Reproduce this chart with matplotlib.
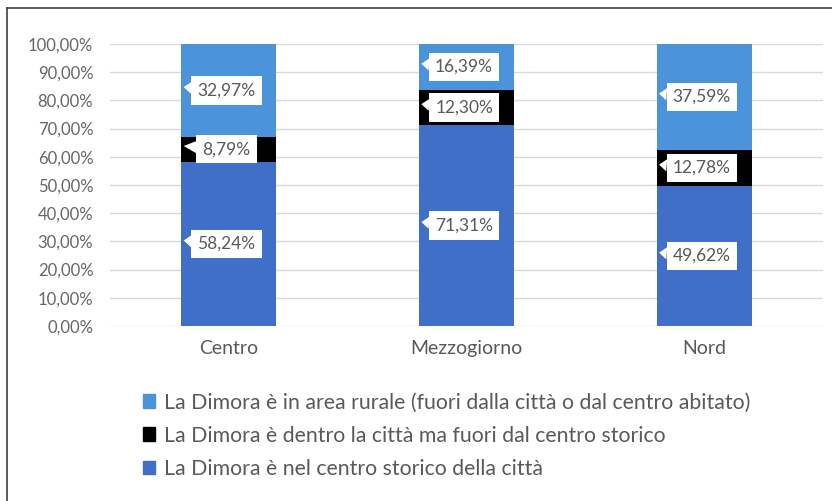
import matplotlib
matplotlib.use("Agg")
import matplotlib.pyplot as plt
from matplotlib.patches import Patch
from matplotlib.lines import Line2D
import numpy as np

categories = ["Centro", "Mezzogiorno", "Nord"]
centro_storico = [58.24, 71.31, 49.62]
dentro_citta = [8.79, 12.30, 12.78]
area_rurale = [32.97, 16.39, 37.59]
series_labels = [
    "La Dimora è nel centro storico della città",
    "La Dimora è dentro la città ma fuori dal centro storico",
    "La Dimora è in area rurale (fuori dalla città o dal centro abitato)",
]
yticks = [0, 10, 20, 30, 40, 50, 60, 70, 80, 90, 100]
ytick_labels = ["0,00%", "10,00%", "20,00%", "30,00%", "40,00%", "50,00%",
                "60,00%", "70,00%", "80,00%", "90,00%", "100,00%"]

colors = ["#3f6fc6", "#000000", "#4b93da"]
text_color = "#595959"
FONT = ["Lato", "DejaVu Sans"]
plt.rcParams['font.family'] = FONT

fig = plt.figure(figsize=(8.32, 5.01), dpi=100)
ax = fig.add_axes([110/832, 175/501, 713/832, 282/501])

x = np.arange(len(categories))
width = 0.40
series = [centro_storico, dentro_citta, area_rurale]
bottom = np.zeros(len(categories))
for vals, col, lab in zip(series, colors, series_labels):
    ax.bar(x, vals, width, bottom=bottom, color=col, label=lab, zorder=2)
    for xi, b, v in zip(x, bottom, vals):
        ymid = b + v / 2
        txt = f"{v:.2f}%".replace(".", ",")
        ax.annotate(txt, xy=(xi - width / 2 + 0.01, ymid + 1.2),
                    xytext=(xi - 0.01, ymid), textcoords="data",
                    ha="center", va="center", fontsize=12.5, color=text_color,
                    bbox=dict(boxstyle="square,pad=0.35", fc="white", ec="none"),
                    arrowprops=dict(arrowstyle="wedge,tail_width=0.7,shrink_factor=0.5",
                                    fc="white", ec="none", shrinkA=0, shrinkB=0),
                    zorder=4)
    bottom = bottom + np.array(vals)

ax.set_xlim(-0.5, 2.5)
ax.set_ylim(0, 100)
ax.set_yticks(yticks)
ax.set_yticklabels(ytick_labels)
ax.set_xticks(x)
ax.set_xticklabels(categories)
ax.tick_params(axis="y", length=0, pad=12, labelsize=12, labelcolor="#666666")
ax.tick_params(axis="x", length=0, pad=10, labelsize=14, labelcolor=text_color)
ax.grid(axis="y", color="#d9d9d9", linewidth=1, zorder=0)
ax.set_axisbelow(True)
for s in ax.spines.values():
    s.set_visible(False)

handles = [Patch(color=c) for c in colors]
fig.legend(handles[::-1], series_labels[::-1], loc="upper left",
           bbox_to_anchor=(134/832, 1 - 384/501), frameon=False,
           handlelength=0.6, handleheight=0.6, handletextpad=0.4,
           labelspacing=0.62, fontsize=15.3, labelcolor=text_color, borderaxespad=0)

# outer frame (top and left edges)
fig.add_artist(Line2D([7/832, 1], [1 - 8/501, 1 - 8/501], color="#404040", lw=1.2,
                      transform=fig.transFigure))
fig.add_artist(Line2D([7/832, 7/832], [0, 1 - 8/501], color="#404040", lw=1.2,
                      transform=fig.transFigure))

fig.savefig("out.png", dpi=100)
